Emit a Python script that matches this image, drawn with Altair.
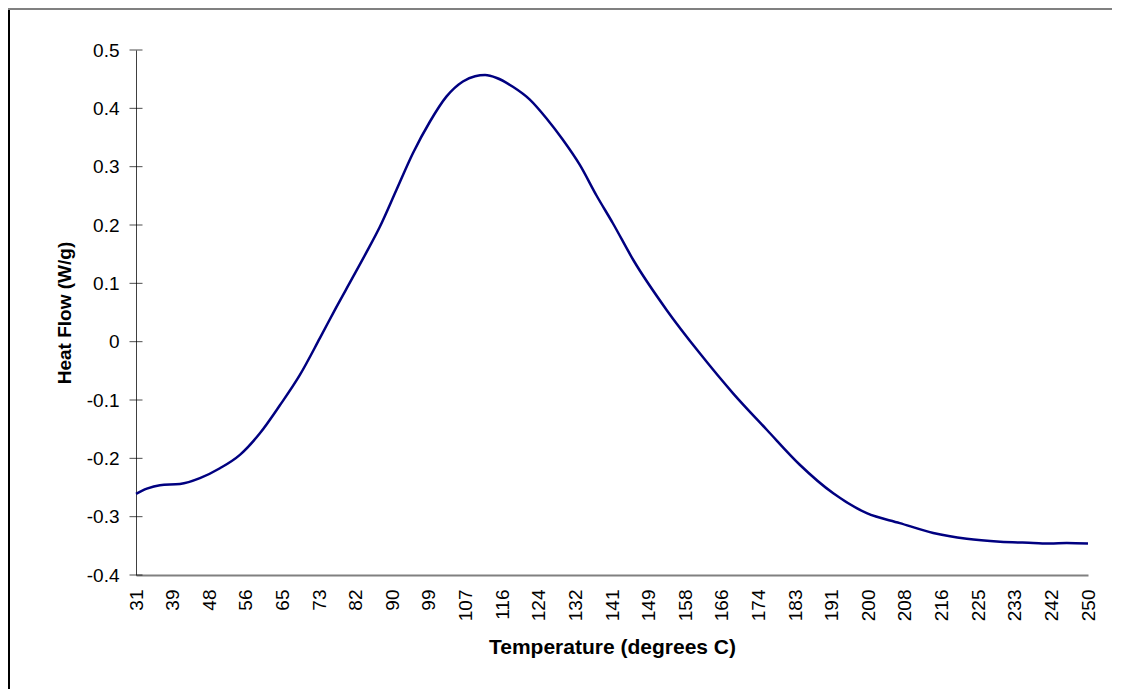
import altair as alt
import pandas as pd

# Data
temperature = [31, 33.5, 36.5, 41.1, 45.7, 50.3, 54.9, 59.5, 64.1, 68.7, 73.3, 77.0, 80.7, 84.0,
               87.1, 90.9, 94.7, 98.6, 102.4, 106.2, 109.0, 111.3, 114.0, 117.7, 121.6, 125.4, 129.2,
               133.1, 136.9, 140.7, 145.4, 153.1, 160.7, 168.4, 176.1, 183.7, 191.4, 199.1,
               206.7, 214.4, 222.1, 229.8, 237.4, 241.3, 245.1, 250]
heat_flow = [-0.261, -0.252, -0.246, -0.244, -0.234, -0.217, -0.194, -0.157, -0.109, -0.057, 0.006,
             0.058, 0.108, 0.153,
             0.197, 0.260, 0.323, 0.377, 0.420, 0.446, 0.455, 0.457, 0.452, 0.437, 0.415, 0.383, 0.346,
             0.303, 0.251, 0.203, 0.140, 0.054, -0.020, -0.089, -0.151, -0.211, -0.260, -0.294,
             -0.311, -0.328, -0.338, -0.343, -0.345, -0.346, -0.345, -0.346]

x_labels = ["31", "39", "48", "56", "65", "73", "82", "90", "99", "107", "116", "124", "132",
            "141", "149", "158", "166", "174", "183", "191", "200", "208", "216", "225", "233",
            "242", "250"]
y_ticks = [-0.4, -0.3, -0.2, -0.1, 0, 0.1, 0.2, 0.3, 0.4, 0.5]

t_min, t_max = 31, 250
n = len(x_labels) - 1
x_tick_values = [t_min + k * (t_max - t_min) / n for k in range(n + 1)]
label_array = "[" + ",".join("'" + s + "'" for s in x_labels) + "]"

df = pd.DataFrame({"T": temperature, "HF": heat_flow})
df_ticks = pd.DataFrame({"HF": y_ticks})

FONT = "Liberation Sans"

x_enc = alt.X("T:Q",
              scale=alt.Scale(domain=[t_min, t_max], nice=False, zero=False),
              axis=alt.Axis(values=x_tick_values,
                            labelExpr=f"{label_array}[round((datum.value - {t_min}) / {(t_max - t_min) / n})]",
                            labelAngle=-90, labelAlign="right", labelBaseline="middle",
                            ticks=False, tickSize=0, labelPadding=14, grid=False,
                            domainColor="#808080", domainWidth=2,
                            labelFont=FONT, labelFontSize=19, labelColor="#000000",
                            title="Temperature (degrees C)", titleFont=FONT, titleFontSize=21,
                            titleFontWeight="bold", titleColor="#000000", titlePadding=16,
                            labelOverlap=False))
y_scale = alt.Scale(domain=[-0.4, 0.5], nice=False, zero=False)

line = alt.Chart(df).mark_line(color="#000080", strokeWidth=2.5, interpolate="monotone").encode(
    x=x_enc,
    y=alt.Y("HF:Q", scale=y_scale,
            axis=alt.Axis(values=y_ticks, labelExpr="toString(datum.value)",
                          ticks=False, tickSize=0,
                          grid=False, domainColor="#404040", domainWidth=1,
                          labelPadding=17, labelFont=FONT, labelFontSize=19,
                          labelColor="#000000",
                          title="Heat Flow (W/g)", titleFont=FONT, titleFontSize=19,
                          titleFontWeight="bold", titleColor="#000000", titlePadding=12,
                          labelOverlap=False)),
)

# cross tick marks on the value axis
cross_ticks = alt.Chart(df_ticks).mark_tick(color="#000000", thickness=1, size=13,
                                            orient="horizontal").encode(
    x=alt.value(0),
    y=alt.Y("HF:Q", scale=y_scale),
)

border_left = alt.Chart(df).mark_rule(color="#000000", strokeWidth=1.5).encode(
    x=alt.value(-127.5), y=alt.value(-41), y2=alt.value(700))
border_top = alt.Chart(df).mark_rule(color="#808080", strokeWidth=1.5).encode(
    x=alt.value(-128), x2=alt.value(1200), y=alt.value(-41))

chart = alt.layer(border_left, border_top, cross_ticks, line).properties(
    width=952, height=525,
    autosize=alt.AutoSizeParams(type="none"),
    padding={"left": 128, "top": 42, "right": 24, "bottom": 114},
    background="#ffffff",
).configure_view(stroke=None)

chart.save("out.html", embed_options={"renderer": "svg", "actions": False})
